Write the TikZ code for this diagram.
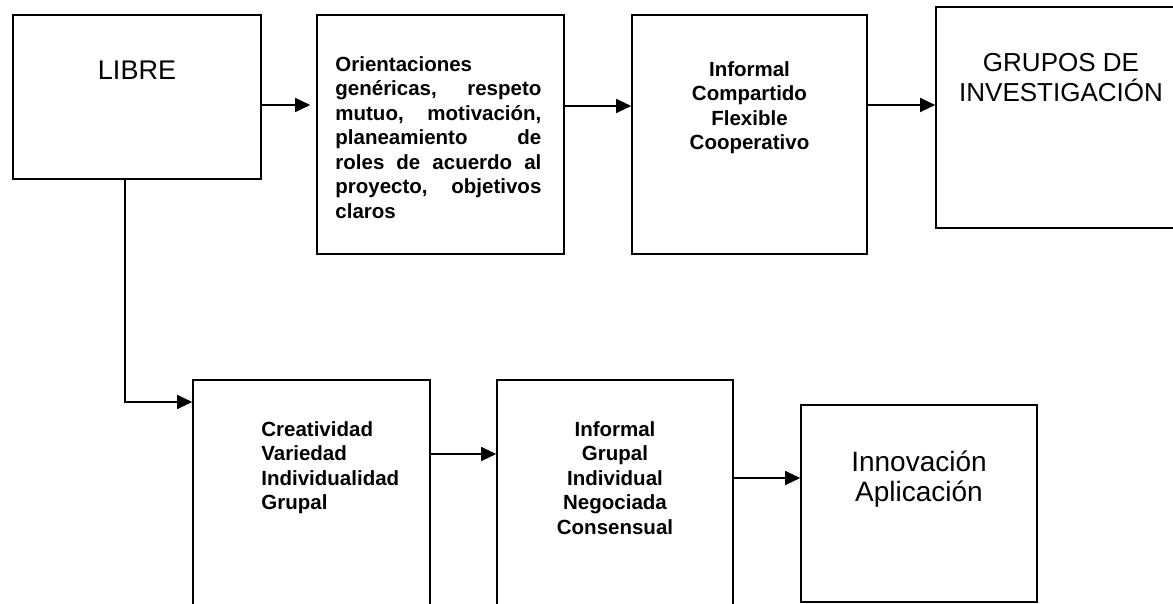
\documentclass[tikz,border=0pt]{standalone}
\usepackage{fontspec}
\setmainfont{Liberation Sans}
\usetikzlibrary{arrows.meta,positioning}

\begin{document}
\begin{tikzpicture}[x=1pt,y=-1pt,>={Triangle[length=15pt,width=14pt]},
 box/.style={draw,rectangle,line width=1.6pt,inner sep=0pt},
 bigtxt/.style={font=\fontsize{27}{30}\selectfont,align=center,inner sep=0pt},
 smalltxt/.style={font=\fontsize{20.5}{24.5}\selectfont\bfseries,inner sep=0pt},
 link/.style={->,line width=1.1pt}]
\useasboundingbox (0,0) rectangle (1173,604);
\clip (0,0) rectangle (1173,604);
% upper row
\node[box,minimum width=248pt,minimum height=164pt] (libre) at (137,97) {};
\node[box,minimum width=247pt,minimum height=239pt] (orient) at (440.5,134.5) {};
\node[box,minimum width=235pt,minimum height=239pt] (inf1) at (749.5,134.5) {};
\node[box,minimum width=250pt,minimum height=221pt] (grupos) at (1061,117.5) {};
\node[bigtxt,below=47pt of libre.north] {LIBRE};
\node[smalltxt,text width=206pt,align=left,below right=42pt and 19pt of orient.north west]
 {Orientaciones\\ genéricas,\hfill respeto\\ mutuo,\hfill motivación,\\
  planeamiento\hfill de\\ roles\hfill de\hfill acuerdo\hfill al\\
  proyecto,\hfill objetivos\\ claros};
\node[smalltxt,align=center,below=47pt of inf1.north]
 {Informal\\ Compartido\\ Flexible\\ Cooperativo};
\node[bigtxt,font=\fontsize{26}{30}\selectfont,below=46.5pt of grupos.north] {GRUPOS DE\\ INVESTIGACIÓN};
% lower row
\node[box,minimum width=237pt,minimum height=240pt] (creat) at (311.5,500) {};
\node[box,minimum width=236pt,minimum height=240pt] (inf2) at (615,500) {};
\node[box,minimum width=236pt,minimum height=197pt] (innov) at (919,503.5) {};
\node[smalltxt,align=left,below right=42pt and 69pt of creat.north west]
 {Creatividad\\ Variedad\\ Individualidad\\ Grupal};
\node[smalltxt,align=center,below=42pt of inf2.north]
 {Informal\\ Grupal\\ Individual\\ Negociada\\ Consensual};
\node[bigtxt,font=\fontsize{28}{30}\selectfont,below=46.5pt of innov.north] {Innovación\\ Aplicación};
% connectors
\draw[link,shorten >=6pt] ([yshift=-8pt]libre.east) coordinate (a1) -- (a1 -| orient.west);
\draw[link] ([yshift=28.5pt]orient.east) coordinate (a2) -- (a2 -| inf1.west);
\draw[link] ([yshift=29.5pt]inf1.east) coordinate (a3) -- (a3 -| grupos.west);
\draw[link] ([xshift=-12pt]libre.south) |- ([yshift=98pt]creat.west);
\draw[link] ([yshift=46pt]creat.east) coordinate (a5) -- (a5 -| inf2.west);
\draw[link] ([yshift=22pt]inf2.east) coordinate (a6) -- (a6 -| innov.west);
\end{tikzpicture}
\end{document}
